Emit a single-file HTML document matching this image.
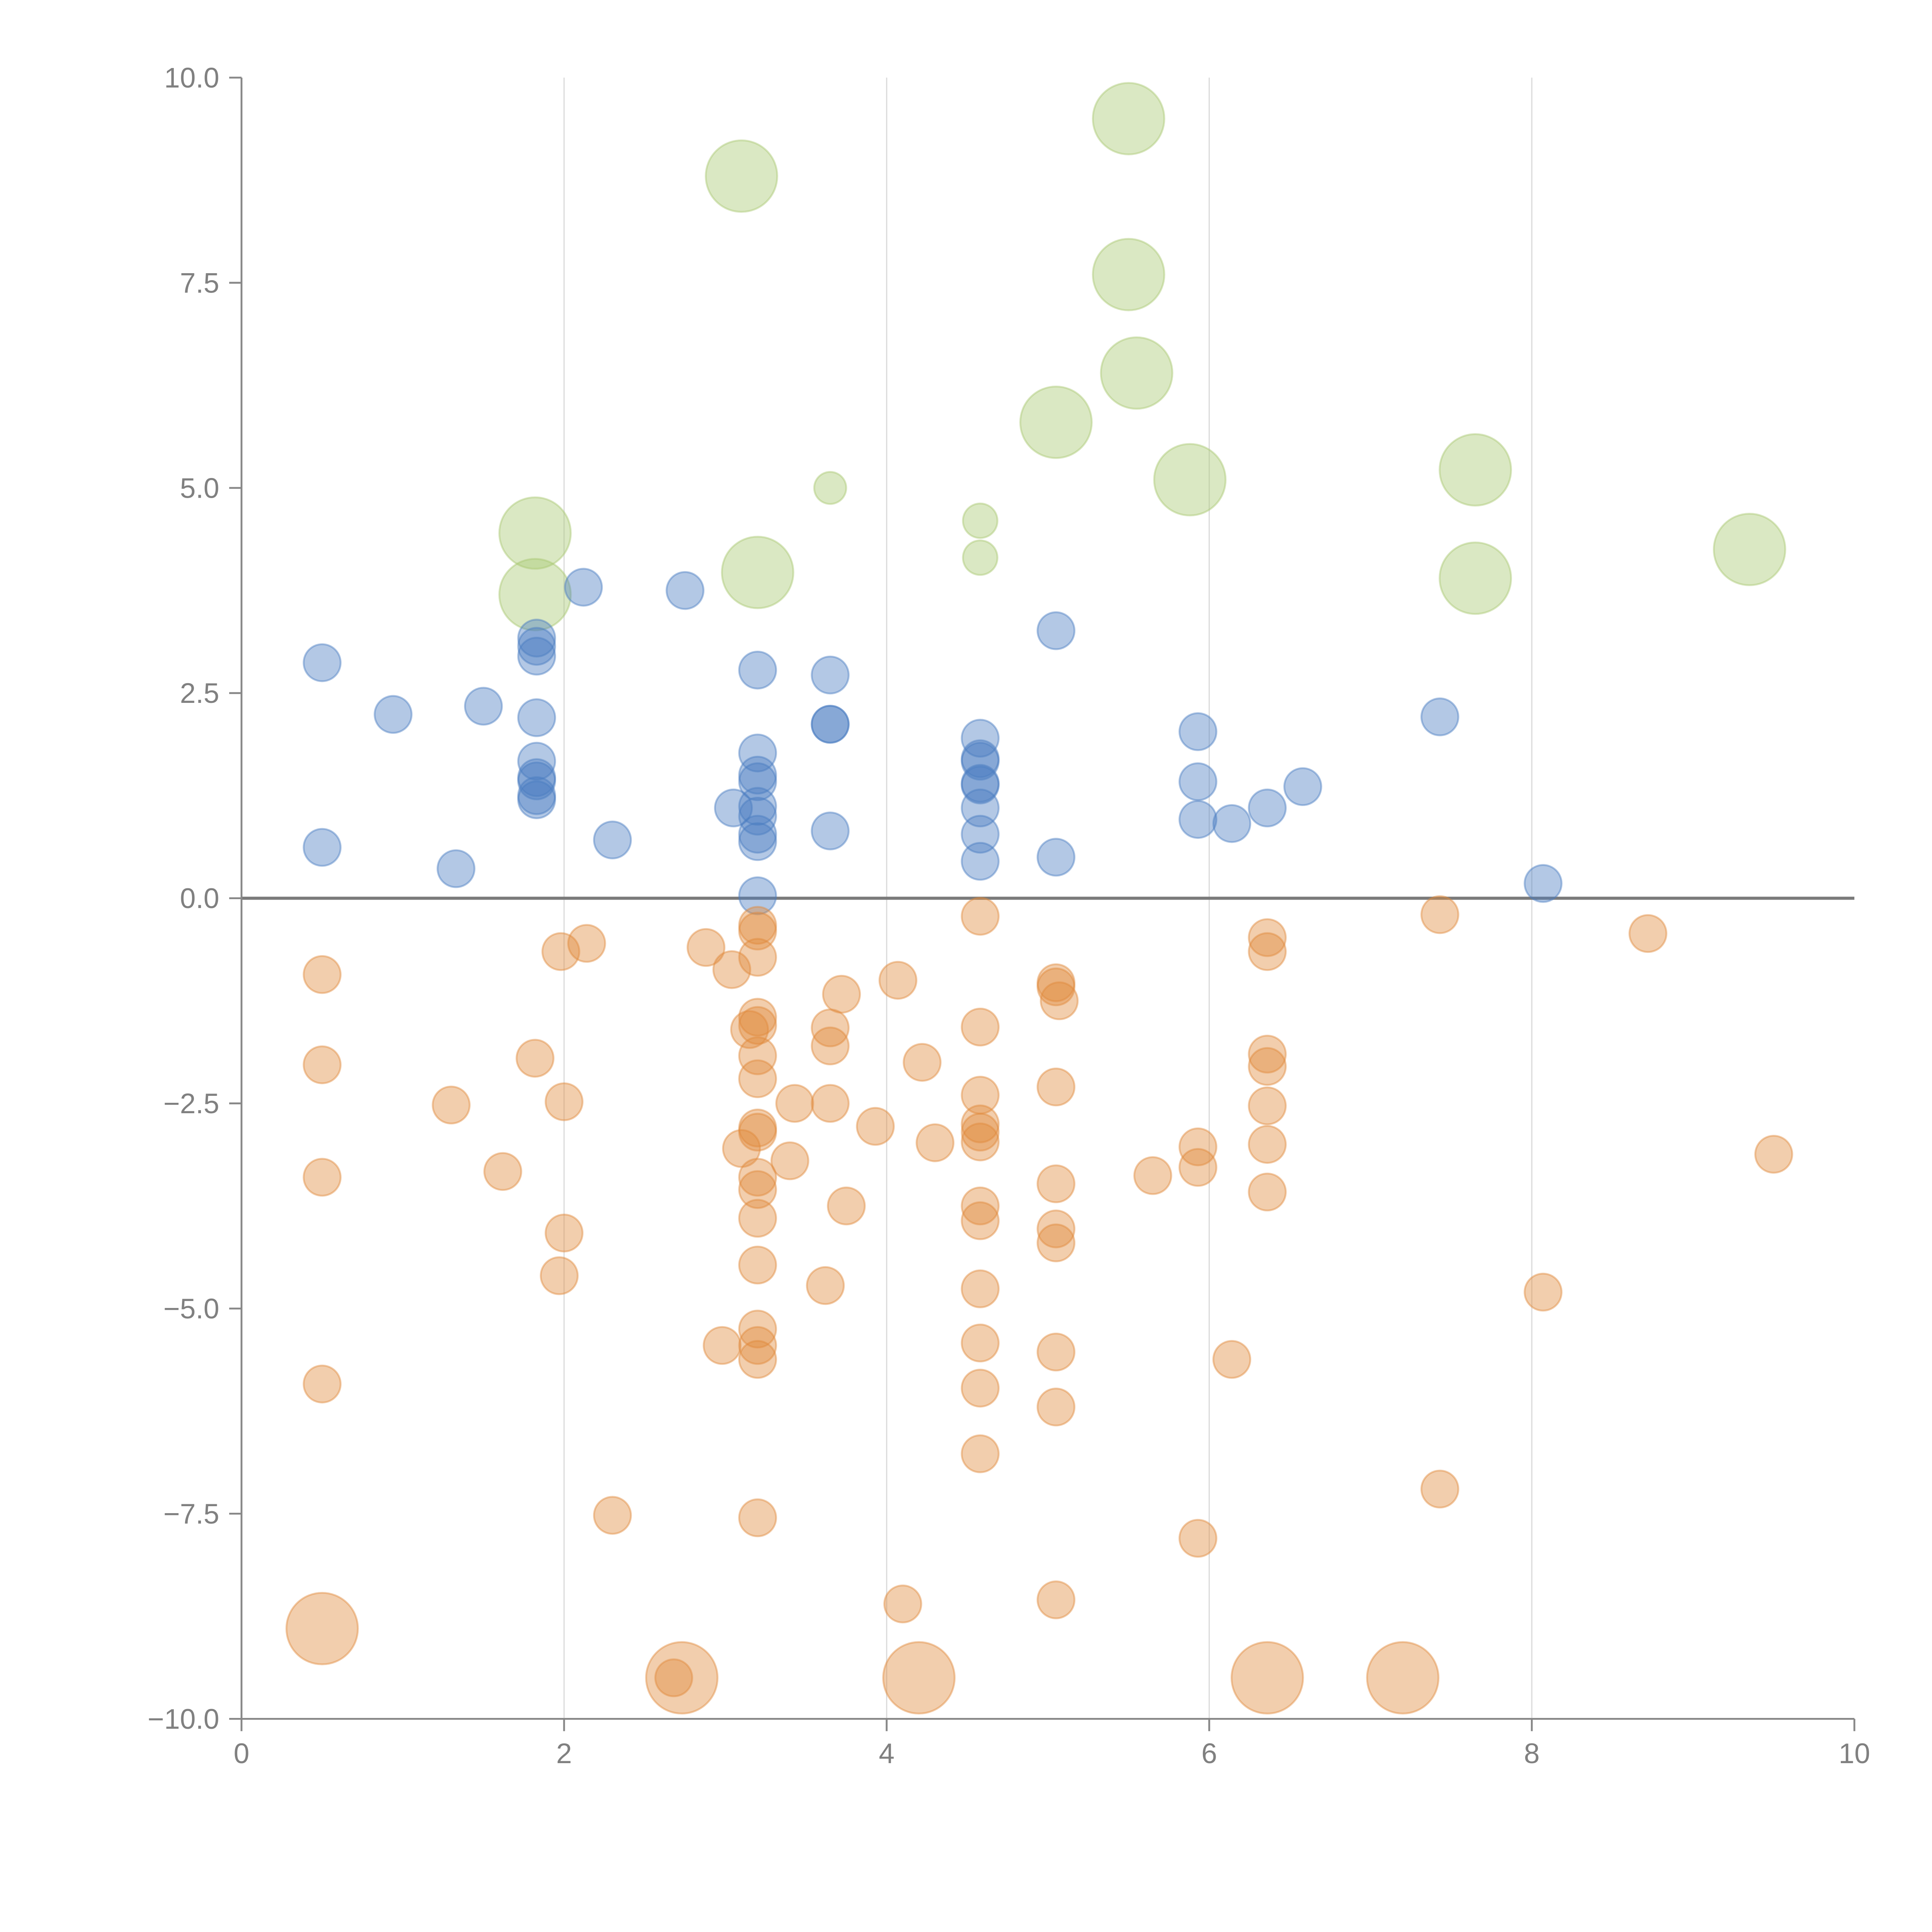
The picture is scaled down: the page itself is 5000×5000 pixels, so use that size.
<!DOCTYPE html>
<html><head><meta charset="utf-8"><style>html,body{margin:0;padding:0;background:#fff}svg{display:block}</style></head>
<body>
<svg id="chart" width="5000" height="5000" viewBox="0 0 1568 1568" xmlns="http://www.w3.org/2000/svg" font-family="Liberation Sans, sans-serif">
<g id="grid"></g>
<g id="marks"></g>
<g id="axes"></g>
</svg>
<script>
const xTicks = [0, 2, 4, 6, 8, 10];
const yTicks = [10, 7.5, 5, 2.5, 0, -2.5, -5, -7.5, -10];
const yTickLabels = ["10.0","7.5","5.0","2.5","0.0","\u22122.5","\u22125.0","\u22127.5","\u221210.0"];
const greenX = [3.1,5.5,5.5,5.55,5.05,5.88,7.65,9.35,7.65,1.82,1.82,3.2,3.65,4.58,4.58];
const greenY = [8.8,9.5,7.6,6.4,5.8,5.1,5.22,4.25,3.9,4.45,3.7,3.97,5.0,4.6,4.15];
const greenS = [29,29,29,29,29,29,29,29,29,29,29,29,13,14,14];
const blueX = [0.5,0.94,1.5,2.12,2.75,1.83,1.83,1.83,1.83,1.83,1.83,1.83,1.83,1.83,0.5,1.33,2.3,3.2,3.2,3.2,3.2,3.2,3.05,3.2,3.2,3.2,3.2,3.65,3.65,3.65,3.65,4.58,4.58,4.58,4.58,4.58,4.58,4.58,4.58,5.05,5.05,5.93,5.93,5.93,6.14,6.36,6.58,7.43,8.07];
const blueY = [2.87,2.24,2.34,3.79,3.75,3.17,3.07,2.95,2.2,1.67,1.47,1.43,1.25,1.2,0.62,0.36,0.71,2.78,1.77,1.5,1.42,1.12,1.1,1.0,0.78,0.69,0.03,2.72,2.12,2.12,0.82,1.95,1.7,1.67,1.4,1.38,1.1,0.78,0.45,3.26,0.5,2.03,1.42,0.96,0.91,1.1,1.36,2.21,0.18];
const orangeX = [0.5,0.5,0.5,0.5,1.3,1.62,1.82,1.98,2.14,2.0,2.0,1.97,2.3,2.88,3.04,3.2,3.2,3.2,3.2,3.15,3.2,3.2,3.2,3.2,3.2,3.1,3.2,3.2,3.2,3.2,3.2,3.2,3.2,2.98,3.2,3.43,3.4,3.65,3.65,3.65,3.62,3.72,3.75,3.93,4.07,4.22,4.3,4.1,4.58,4.58,4.58,4.58,4.58,4.58,4.58,4.58,4.58,4.58,4.58,4.58,5.05,5.05,5.07,5.05,5.05,5.05,5.05,5.05,5.05,5.05,5.65,5.93,5.93,5.93,6.14,6.36,6.36,6.36,6.36,6.36,6.36,6.36,7.43,7.43,8.07,8.72,9.5,2.68,0.5,2.73,4.2,6.36,7.2];
const orangeY = [-0.93,-2.03,-3.4,-5.92,-2.52,-3.33,-1.95,-0.65,-0.55,-2.48,-4.08,-4.6,-7.52,-0.6,-0.87,-0.33,-0.4,-0.72,-1.45,-1.6,-1.55,-1.92,-2.2,-2.8,-2.85,-3.05,-3.4,-3.55,-3.9,-4.47,-5.25,-5.45,-5.62,-5.45,-7.55,-2.5,-3.2,-1.58,-1.8,-2.5,-4.72,-1.17,-3.75,-2.78,-1.0,-2.0,-2.98,-8.6,-0.22,-1.57,-2.4,-2.75,-2.85,-2.97,-3.75,-3.93,-4.76,-5.42,-5.97,-6.77,-1.03,-1.08,-1.25,-2.3,-3.48,-4.03,-4.2,-5.53,-6.2,-8.55,-3.38,-3.03,-3.28,-7.8,-5.62,-0.48,-0.65,-1.9,-2.05,-2.53,-3.0,-3.58,-0.2,-7.2,-4.8,-0.43,-3.12,-9.5,-8.9,-9.5,-9.5,-9.5,-9.5];
const orangeS = orangeX.map((_, i) => i >= orangeX.length - 5 ? 29 : 15);

const L=196,R=1505,T=63,B=1395;
const xs = v => L + (v - 0) / 10 * (R - L);
const ys = v => B - (v + 10) / 20 * (B - T);
const NS = "http://www.w3.org/2000/svg";
function mk(tag, attrs, parent){const e=document.createElementNS(NS,tag);for(const k in attrs)e.setAttribute(k,attrs[k]);parent.appendChild(e);return e;}
const grid=document.getElementById('grid'),marks=document.getElementById('marks'),axes=document.getElementById('axes');

xTicks.forEach(t=>{ if(t>0&&t<10){const l=mk('line',{x1:xs(t),x2:xs(t),y1:T,y2:B,stroke:'#dcdcdc','stroke-width':1},grid);

}});
const z=mk('line',{x1:L,x2:R,y1:ys(0),y2:ys(0),stroke:'#7a7a7a','stroke-width':2.5},grid);



function series(X,Y,S,fill,name){
  X.forEach((x,i)=>{
    const c=mk('circle',{cx:xs(x),cy:ys(Y[i]),r:S[i],fill:fill,'fill-opacity':0.42,stroke:fill,'stroke-opacity':0.45,'stroke-width':1.5},marks);
    
    
  });
}
series(greenX,greenY,greenS,'#a8c870','green-bubble');
series(blueX,blueY,blueX.map(()=>15),'#4a7cc0','blue-bubble');
series(orangeX,orangeY,orangeS,'#e08a3c','orange-bubble');

mk('line',{x1:L,x2:L,y1:T,y2:B,stroke:'#888','stroke-width':1.5},axes);
mk('line',{x1:L,x2:R,y1:B,y2:B,stroke:'#888','stroke-width':1.5},axes);
yTicks.forEach((t,i)=>{
  mk('line',{x1:L-10,x2:L,y1:ys(t),y2:ys(t),stroke:'#888','stroke-width':1.5},axes);
  const tx=mk('text',{x:L-18,y:ys(t)+8,'text-anchor':'end','font-size':23,fill:'#808080'},axes);
  tx.textContent=yTickLabels[i];
  
  
});
xTicks.forEach(t=>{
  mk('line',{x1:xs(t),x2:xs(t),y1:B,y2:B+10,stroke:'#888','stroke-width':1.5},axes);
  const tx=mk('text',{x:xs(t),y:B+36,'text-anchor':'middle','font-size':23,fill:'#808080'},axes);
  tx.textContent=String(t);
  
  
});
</script>
</body></html>
